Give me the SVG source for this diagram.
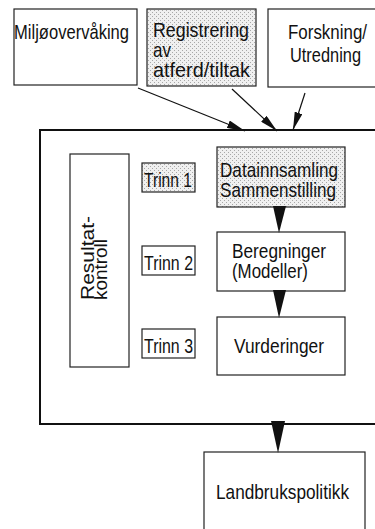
<svg xmlns="http://www.w3.org/2000/svg" width="375" height="529" viewBox="0 0 375 529">
<style>
.box{fill:#fff;stroke:#222;stroke-width:1.2}
.gray{fill:url(#stipple);stroke:#222;stroke-width:1.2}
.big{fill:#fff;stroke:#111;stroke-width:2}
.t{font-family:"Liberation Sans",Arial,sans-serif;font-size:21px;fill:#111}
.r{font-family:"Liberation Sans",Arial,sans-serif;font-size:19px;fill:#111}
.ln{stroke:#111;stroke-width:1.2;fill:none}
.head{fill:#111}
</style>
<defs>
<pattern id="stipple" width="4" height="4" patternUnits="userSpaceOnUse">
<rect width="4" height="4" fill="#f0f0f0"/>
<rect x="0" y="0" width="1" height="1" fill="#a8a8a8"/>
<rect x="2" y="2" width="1" height="1" fill="#a8a8a8"/>
</pattern>
<marker id="arr" viewBox="0 0 18 8" refX="18" refY="4" markerWidth="18" markerHeight="8" markerUnits="userSpaceOnUse" orient="auto">
<path d="M0,0 L18,4 L0,8 z" fill="#111"/>
</marker>
</defs>

<g id="big-frame">
<rect class="big" x="40" y="130" width="345" height="294"/>
</g>

<g id="miljoovervaking">
<rect class="box" x="14" y="9" width="123" height="76"/>
<text class="t" x="14" y="39" textLength="115" lengthAdjust="spacingAndGlyphs">Miljøovervåking</text>
</g>

<g id="registrering">
<rect class="gray" x="147" y="9" width="109" height="77"/>
<text class="t" x="153" y="37" textLength="96" lengthAdjust="spacingAndGlyphs">Registrering</text>
<text class="t" x="153" y="57" textLength="18" lengthAdjust="spacingAndGlyphs">av</text>
<text class="t" x="153" y="77" textLength="97" lengthAdjust="spacingAndGlyphs">atferd/tiltak</text>
</g>

<g id="forskning">
<rect class="box" x="268" y="9" width="120" height="78"/>
<text class="t" x="288" y="39" textLength="79" lengthAdjust="spacingAndGlyphs">Forskning/</text>
<text class="t" x="290" y="62" textLength="71" lengthAdjust="spacingAndGlyphs">Utredning</text>
</g>

<g id="resultatkontroll">
<rect class="box" x="70" y="154" width="59" height="213"/>
<text class="r" transform="translate(94,300) rotate(-90)" textLength="84" lengthAdjust="spacingAndGlyphs">Resultat-</text>
<text class="r" transform="translate(107,300) rotate(-90)" textLength="61" lengthAdjust="spacingAndGlyphs">kontroll</text>
</g>

<g id="trinn1">
<rect class="gray" x="142" y="163" width="53" height="29"/>
<text class="t" x="144" y="187" textLength="48" lengthAdjust="spacingAndGlyphs">Trinn 1</text>
</g>

<g id="trinn2">
<rect class="box" x="142" y="246" width="53" height="29"/>
<text class="t" x="144" y="270" textLength="49" lengthAdjust="spacingAndGlyphs">Trinn 2</text>
</g>

<g id="trinn3">
<rect class="box" x="142" y="329" width="53" height="29"/>
<text class="t" x="144" y="353" textLength="49" lengthAdjust="spacingAndGlyphs">Trinn 3</text>
</g>

<g id="datainnsamling">
<rect class="gray" x="217" y="147" width="128" height="60"/>
<text class="t" x="220" y="177" textLength="118" lengthAdjust="spacingAndGlyphs">Datainnsamling</text>
<text class="t" x="220" y="197" textLength="116" lengthAdjust="spacingAndGlyphs">Sammenstilling</text>
</g>

<g id="beregninger">
<rect class="box" x="217" y="232" width="128" height="59"/>
<text class="t" x="232" y="258" textLength="94" lengthAdjust="spacingAndGlyphs">Beregninger</text>
<text class="t" x="232" y="278" textLength="76" lengthAdjust="spacingAndGlyphs">(Modeller)</text>
</g>

<g id="vurderinger">
<rect class="box" x="217" y="317" width="128" height="58"/>
<text class="t" x="234" y="353" textLength="90" lengthAdjust="spacingAndGlyphs">Vurderinger</text>
</g>

<g id="landbrukspolitikk">
<rect class="box" x="204" y="452" width="161" height="90"/>
<text class="t" x="216" y="499" textLength="133" lengthAdjust="spacingAndGlyphs">Landbrukspolitikk</text>
</g>

<g id="connectors">
<line class="ln" x1="138" y1="88" x2="245" y2="131" marker-end="url(#arr)"/>
<line class="ln" x1="232" y1="89" x2="277" y2="131" marker-end="url(#arr)"/>
<line class="ln" x1="305" y1="93" x2="293" y2="130" marker-end="url(#arr)"/>
<path class="head" d="M273,206 L286,206 L279,233 z"/>
<path class="head" d="M273,290 L286,290 L279,318 z"/>
<path class="head" d="M271,421 L285,421 L278,453 z"/>
</g>
</svg>
